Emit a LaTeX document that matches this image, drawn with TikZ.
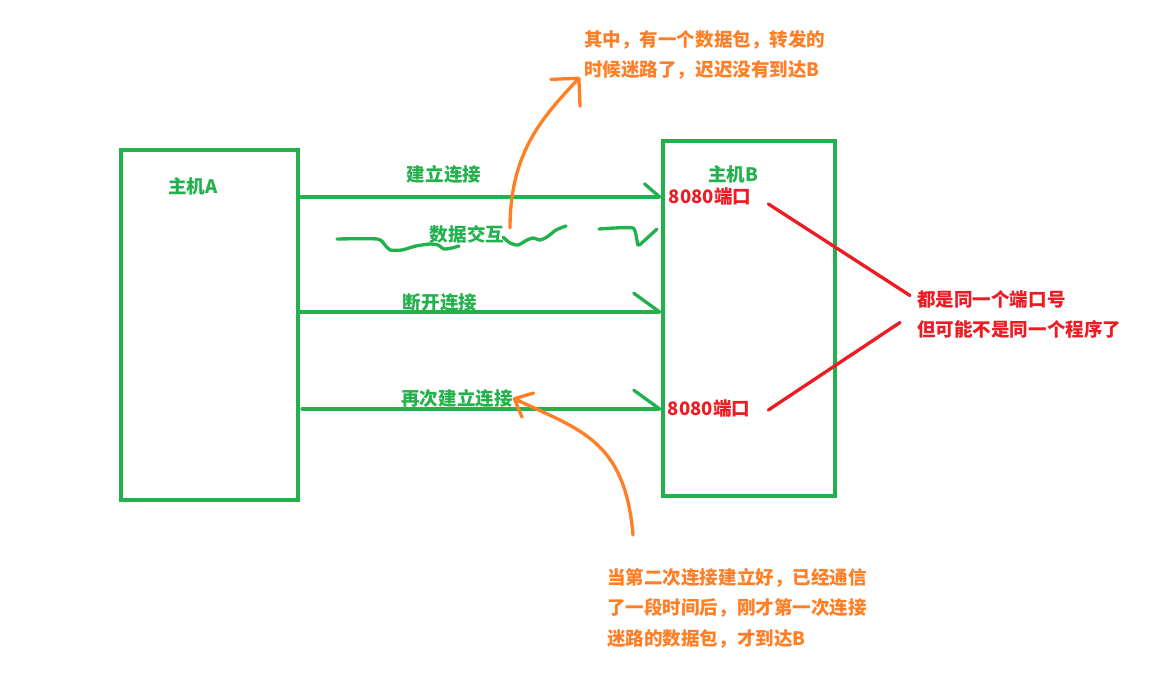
\documentclass[tikz,border=0pt]{standalone}
\usepackage{fontspec}
\setmainfont{Noto Sans CJK SC}
\usetikzlibrary{arrows.meta,positioning,calc}
\definecolor{pgreen}{RGB}{34,177,76}
\definecolor{porange}{RGB}{255,127,39}
\definecolor{pred}{RGB}{237,28,36}
\tikzset{
  hostbox/.style={draw=pgreen, line width=2.5pt, inner sep=0pt},
  msgline/.style={draw=pgreen, line width=2.5pt, line cap=round},
  pen/.style={line width=2.5pt, line cap=round, line join=round},
  lbl/.style={font=\bfseries\fontsize{13.9}{16}\selectfont, inner sep=0pt},
  note/.style={lbl, align=left, font=\bfseries\fontsize{13.9}{22.8}\selectfont},
}

\begin{document}
\begin{tikzpicture}[x=0.75pt, y=-0.75pt]
    \useasboundingbox (0,0) rectangle (1169,680);

    % Hosts
    \node[hostbox, minimum width=132.75pt, minimum height=262.5pt] (hostA) at (209.5,325) {};
    \node[hostbox, minimum width=129pt, minimum height=266.25pt] (hostB) at (749,318.5) {};
    \node[lbl, text=pgreen] (nameA) at (193,186) {主机A};
    \node[lbl, text=pgreen] (nameB) at (733,174) {主机B};

    % Ports on B
    \node[lbl, text=pred] (port1) at (710,197) {8080端口};
    \node[lbl, text=pred] (port2) at (709,409) {8080端口};

    % Connect, data, disconnect, reconnect
    \coordinate (cut) at (0,312);
    \coordinate (again) at (302,409);
    \draw[msgline, -{Straight Barb[left, angle=82:15pt, round]}] (hostA.east |- port1) -- (hostB.west |- port1);
    \draw[msgline, -{Straight Barb[left, angle=72:24pt, round]}] (hostA.east |- cut) -- (hostB.west |- cut);
    \draw[msgline, -{Straight Barb[left, angle=72:24pt, round]}] (again) -- (hostB.west |- port2);

    % Data exchange (hand drawn wave)
    \draw[pen, pgreen] plot[smooth, tension=0.4] coordinates {(337,239) (377,239) (385,245) (390,250) (402,250) (416,246) (430,244) (438,245) (444,249) (452,248) (459,246)};
    \draw[pen, pgreen] plot[smooth, tension=0.4] coordinates {(503,237) (510,243) (518,245) (527,240) (533,238) (540,240) (547,237) (556,230) (566,226)};
    \draw[pen, pgreen] plot[smooth, tension=0.3] coordinates {(599,229) (633,228) (638,245) (645,240) (657,229)};

    \node[lbl, text=pgreen] (conn) at (444,174) {建立连接};
    \node[lbl, text=pgreen] (data) at (467,234) {数据交互};
    \node[lbl, text=pgreen] (close) at (440,303) {断开连接};
    \node[lbl, text=pgreen] (reconn) at (457,398) {再次建立连接};

    % Notes
    \node[note, text=porange, anchor=west] (lostnote) at (584,55) {其中，有一个数据包，转发的\\时候迷路了，迟迟没有到达B};
    \node[note, text=porange, anchor=west] (latenote) at (607,608) {当第二次连接建立好，已经通信\\了一段时间后，刚才第一次连接\\迷路的数据包，才到达B};
    \node[note, text=pred, anchor=west] (samenote) at (917,314.5) {都是同一个端口号\\但可能不是同一个程序了};

    % Orange arrows
    \coordinate (lost) at (510,228);
    \coordinate (late) at (633,535);
    \draw[pen, porange, -{Straight Barb[angle=90:21pt, round]}] (lost) .. controls (510,150) and (545,115) .. ($(lostnote.west)+(-4,22)$);
    \draw[pen, porange, -{Straight Barb[angle=84:15pt, round]}] (late) .. controls (625,440) and (580,430) .. (reconn.east);

    % Red links
    \draw[pen, pred] ($(port1.east)+(17,7)$) -- ($(samenote.west)+(-7,-19)$);
    \draw[pen, pred] ($(port2.east)+(18,1)$) -- ($(samenote.west)+(-17,8)$);
\end{tikzpicture}
\end{document}
